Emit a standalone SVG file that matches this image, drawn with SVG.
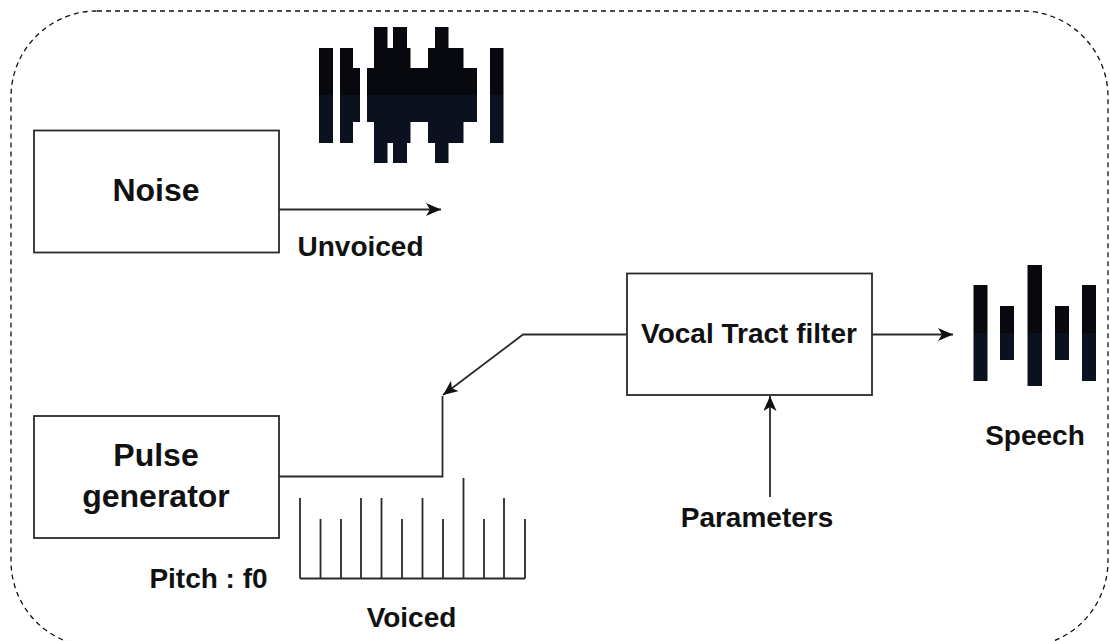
<svg xmlns="http://www.w3.org/2000/svg" width="1110" height="641" viewBox="0 0 1110 641">
  <defs>
    <style>
      .frame { fill: none; stroke: #111; stroke-width: 1.3; stroke-dasharray: 5 4; }
      .box { fill: #fff; stroke: #2a2a2a; stroke-width: 1.8; }
      .wire { fill: none; stroke: #2a2a2a; stroke-width: 1.8; }
      .lbl { font-family: "Liberation Sans", Arial, sans-serif; font-weight: bold; fill: #111; text-anchor: middle; }
      .big { font-size: 32px; }
      .mid { font-size: 28px; }
    </style>
    <marker id="arrow" viewBox="0 0 15 13" refX="15" refY="6.5" markerWidth="15" markerHeight="13" markerUnits="userSpaceOnUse" orient="auto">
      <path d="M0,0 L15,6.5 L0,13 L4,6.5 Z" fill="#111"/>
    </marker>
    <linearGradient id="noiseFill" gradientUnits="userSpaceOnUse" x1="0" y1="20" x2="0" y2="170">
      <stop offset="0" stop-color="#07090e"/>
      <stop offset="0.5" stop-color="#07090e"/>
      <stop offset="0.5" stop-color="#0b111e"/>
      <stop offset="1" stop-color="#0b111e"/>
    </linearGradient>
    <linearGradient id="speechFill" gradientUnits="userSpaceOnUse" x1="0" y1="263" x2="0" y2="403">
      <stop offset="0" stop-color="#07090e"/>
      <stop offset="0.5" stop-color="#07090e"/>
      <stop offset="0.5" stop-color="#0b111e"/>
      <stop offset="1" stop-color="#0b111e"/>
    </linearGradient>
  </defs>

  <rect width="1110" height="641" fill="#fff"/>

  <!-- dashed outer frame -->
  <rect class="frame" x="11" y="11" width="1097" height="636" rx="86" ry="86"/>

  <!-- connectors -->
  <g id="connectors">
    <path class="wire" d="M279,209.5 L441,209.5" marker-end="url(#arrow)"/>
    <path class="wire" d="M279,476.5 L442.5,476.5 L442.5,396"/>
    <path class="wire" d="M627,334.5 L523,334.5 L443,395" marker-end="url(#arrow)"/>
    <path class="wire" d="M872,334.5 L953,334.5" marker-end="url(#arrow)"/>
    <path class="wire" d="M770,497 L770,396" marker-end="url(#arrow)"/>
  </g>

  <g id="noise">
    <rect class="box" x="34" y="130.5" width="245" height="122"/>
    <text class="lbl big" x="156" y="201">Noise</text>
  </g>

  <g id="pulse-generator">
    <rect class="box" x="34" y="416" width="245" height="122"/>
    <text class="lbl big" x="156" y="466">Pulse</text>
    <text class="lbl big" x="156" y="507">generator</text>
  </g>

  <g id="vocal-tract-filter">
    <rect class="box" x="627" y="273.5" width="245" height="121.5"/>
    <text class="lbl mid" x="749" y="343">Vocal Tract filter</text>
  </g>

  <!-- noise waveform -->
  <g id="noise-wave" fill="url(#noiseFill)">
    <rect x="319" y="48" width="14" height="95"/>
    <rect x="340" y="48" width="13" height="95"/>
    <rect x="352" y="68" width="8" height="54"/>
    <rect x="367" y="68" width="8" height="54"/>
    <rect x="374" y="27" width="13.5" height="136"/>
    <rect x="387" y="48" width="7" height="95"/>
    <rect x="393" y="27" width="14" height="136"/>
    <rect x="406" y="48" width="4.5" height="95"/>
    <rect x="410" y="68" width="19" height="54"/>
    <rect x="428" y="48" width="8" height="95"/>
    <rect x="435" y="27" width="13.5" height="136"/>
    <rect x="448" y="48" width="15.5" height="95"/>
    <rect x="463" y="68" width="14" height="54"/>
    <rect x="490" y="48" width="13.5" height="95"/>
  </g>
  <text class="lbl mid" x="360.5" y="256">Unvoiced</text>

  <!-- voiced pulse train -->
  <g id="voiced-pulses" class="wire">
    <path d="M300,578.5 L525,578.5"/>
    <path d="M300,578.5 V498 M320.5,578.5 V519 M341,578.5 V519 M361,578.5 V498 M381.5,578.5 V498 M402,578.5 V519 M422.5,578.5 V498 M443,578.5 V519 M463.5,578.5 V478 M484,578.5 V519 M504,578.5 V498 M525,578.5 V519"/>
  </g>
  <text class="lbl mid" x="208.5" y="588">Pitch : f0</text>
  <text class="lbl mid" x="411.5" y="627">Voiced</text>

  <text class="lbl mid" x="757" y="527">Parameters</text>

  <!-- speech output bars -->
  <g id="speech-wave" fill="url(#speechFill)">
    <rect x="973.5" y="285" width="14" height="96"/>
    <rect x="1000" y="306" width="14" height="54"/>
    <rect x="1027.5" y="265" width="14.5" height="121"/>
    <rect x="1055" y="306" width="14" height="54"/>
    <rect x="1082" y="285" width="14" height="96"/>
  </g>
  <text class="lbl mid" x="1035" y="445">Speech</text>
</svg>
